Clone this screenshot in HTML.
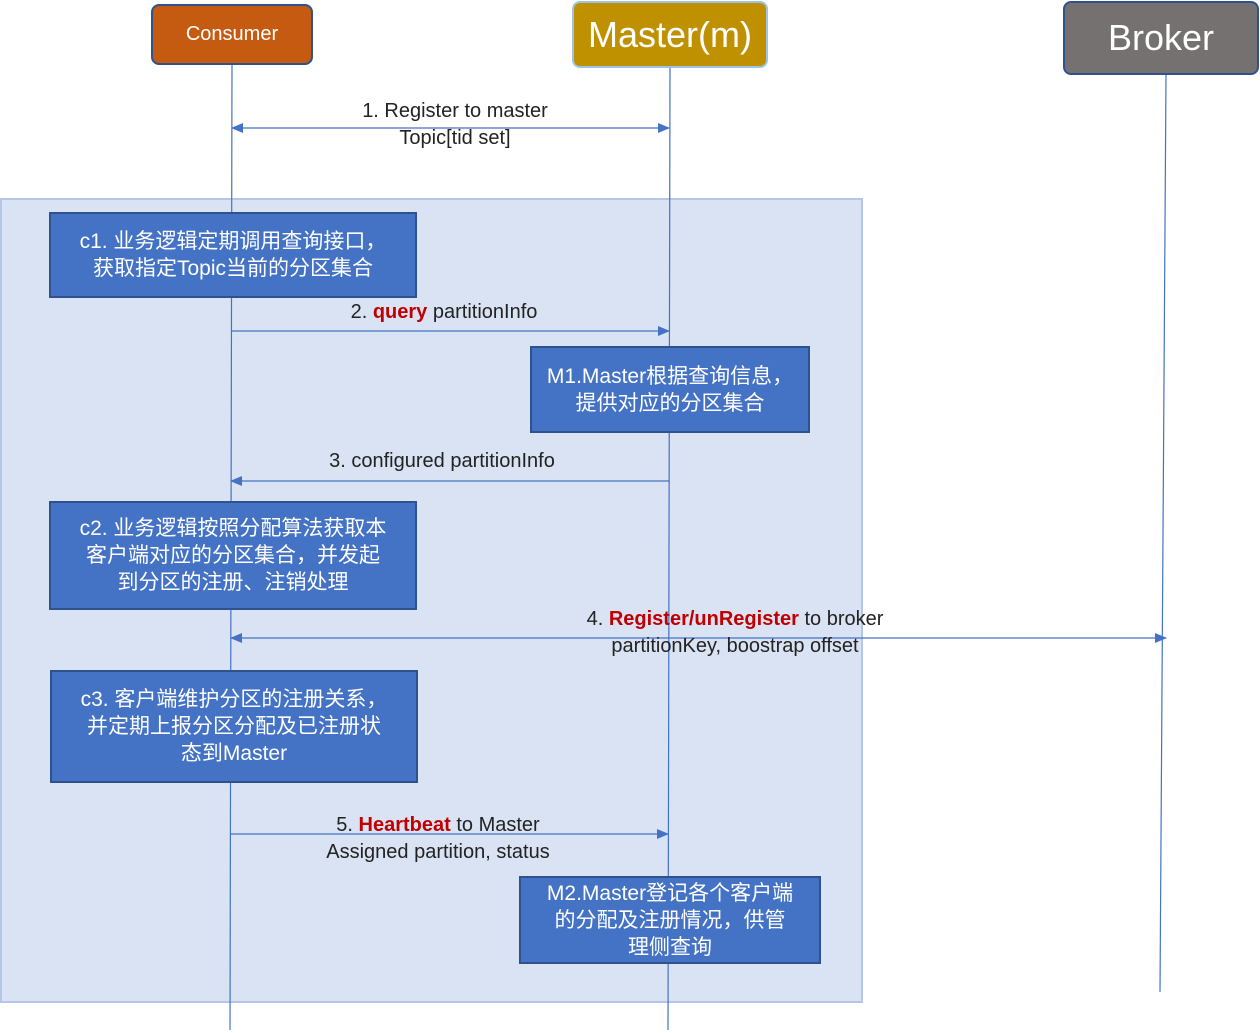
<!DOCTYPE html>
<html><head><meta charset="utf-8"><style>
body{margin:0;width:1260px;height:1033px;background:#fff;position:relative;overflow:hidden;font-family:"Liberation Sans","Noto Sans CJK SC",sans-serif}
.a{position:absolute;box-sizing:border-box}
.box{background:#4472c4;border:2px solid #2f528f;color:#fff;font-size:21px;line-height:27px;text-align:center;display:flex;align-items:center;justify-content:center}
.h{color:#fff;display:flex;align-items:center;justify-content:center;border-radius:8px}
.t{font-size:20px;color:#222;text-align:center;line-height:27px;white-space:nowrap}
.r{color:#c00000;font-weight:bold}
</style></head><body>
<div class="a" style="left:0;top:198px;width:863px;height:805px;background:#dae3f3;border:2px solid #b4c7e7"></div>
<svg class="a" style="left:0;top:0" width="1260" height="1033">
<defs><marker id="m" markerWidth="12" markerHeight="10" refX="11" refY="5" orient="auto-start-reverse" markerUnits="userSpaceOnUse"><path d="M0,0L12,5L0,10z" fill="#4472c4"/></marker></defs>
<g stroke="#4472c4" stroke-width="1.2" fill="none">
<line x1="232" y1="64" x2="230" y2="1030"/>
<line x1="670" y1="67" x2="668" y2="1030"/>
<line x1="1166" y1="74" x2="1160" y2="992"/>
<line x1="232" y1="128" x2="669" y2="128" marker-end="url(#m)" marker-start="url(#m)"/>
<line x1="232" y1="331" x2="669" y2="331" marker-end="url(#m)"/>
<line x1="669" y1="481" x2="231" y2="481" marker-end="url(#m)"/>
<line x1="231" y1="638" x2="1166" y2="638" marker-end="url(#m)" marker-start="url(#m)"/>
<line x1="231" y1="834" x2="668" y2="834" marker-end="url(#m)"/>
</g></svg>
<div class="a h" style="left:151px;top:4px;width:162px;height:61px;background:#c55a11;border:2px solid #2f528f;font-size:20px">Consumer</div>
<div class="a h" style="left:572px;top:1px;width:196px;height:67px;background:#bf9000;border:2px solid #9dc3e6;font-size:36px">Master(m)</div>
<div class="a h" style="left:1063px;top:1px;width:196px;height:74px;background:#767171;border:2px solid #2f528f;font-size:36px">Broker</div>
<div class="a t" style="left:255px;top:98px;width:400px">1. Register to master<br>Topic[tid set]</div>
<div class="a box" style="left:49px;top:212px;width:368px;height:86px">c1. 业务逻辑定期调用查询接口，<br>获取指定Topic当前的分区集合</div>
<div class="a t" style="left:244px;top:299px;width:400px">2. <span class="r">query</span> partitionInfo</div>
<div class="a box" style="left:530px;top:346px;width:280px;height:87px">M1.Master根据查询信息，<br>提供对应的分区集合</div>
<div class="a t" style="left:242px;top:448px;width:400px">3. configured partitionInfo</div>
<div class="a box" style="left:49px;top:501px;width:368px;height:109px">c2. 业务逻辑按照分配算法获取本<br>客户端对应的分区集合，并发起<br>到分区的注册、注销处理</div>
<div class="a t" style="left:535px;top:606px;width:400px">4. <span class="r">Register/unRegister</span> to broker<br>partitionKey, boostrap offset</div>
<div class="a box" style="left:50px;top:670px;width:368px;height:113px">c3. 客户端维护分区的注册关系，<br>并定期上报分区分配及已注册状<br>态到Master</div>
<div class="a t" style="left:238px;top:812px;width:400px">5. <span class="r">Heartbeat</span> to Master<br>Assigned partition, status</div>
<div class="a box" style="left:519px;top:876px;width:302px;height:88px">M2.Master登记各个客户端<br>的分配及注册情况，供管<br>理侧查询</div>
</body></html>
